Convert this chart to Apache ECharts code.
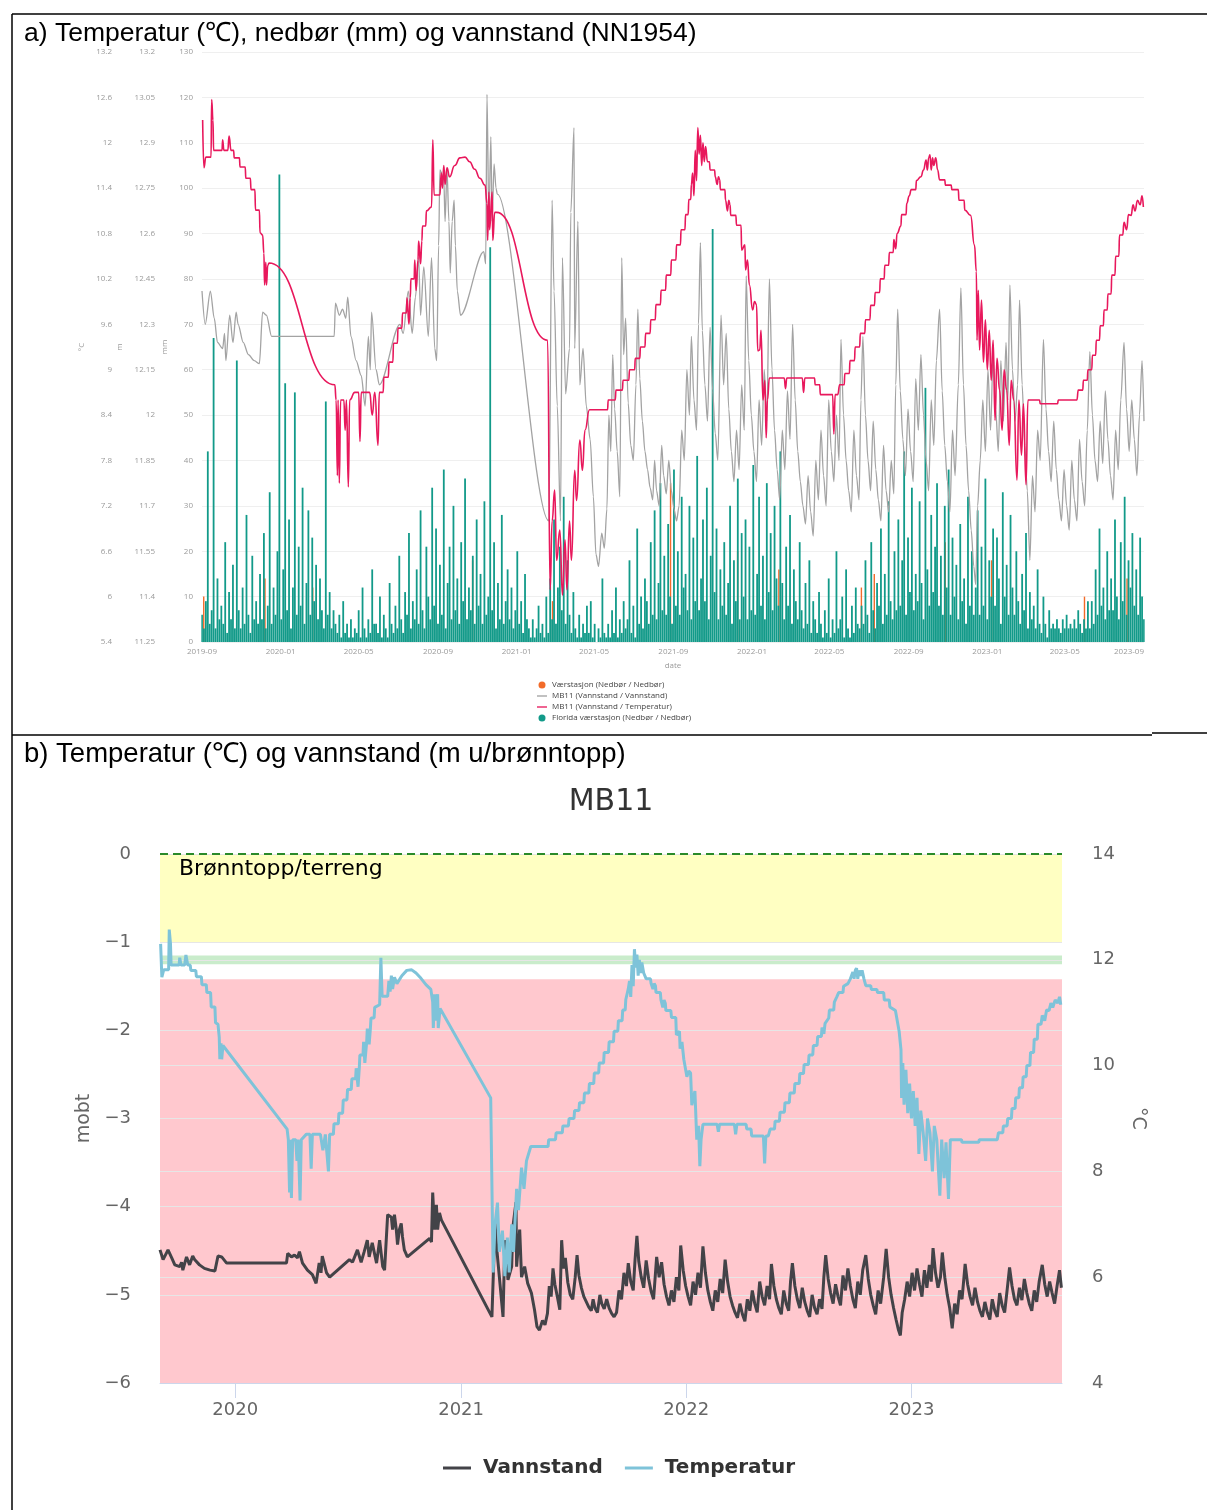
<!DOCTYPE html>
<html><head><meta charset="utf-8">
<script src="https://cdn.jsdelivr.net/npm/echarts@6/dist/echarts.min.js"></script>
<style>html,body{margin:0;padding:0;background:#fff}#c{width:1207px;height:1510px}</style>
</head><body><div id="c"></div>
<script>
// ---------------- DATA ----------------
const CAPTION_A = 'a) Temperatur (℃), nedbør (mm) og vannstand (NN1954)';
const CAPTION_B = 'b) Temperatur (℃) og vannstand (m u/brønntopp)';
const TITLE_B = 'MB11';
const X_MIN = '2019-09-01', X_MAX = '2023-09-01';
const X_TICKS_A = ['2019-09-01','2020-01-01','2020-05-01','2020-09-01','2021-01-01','2021-05-01','2021-09-01','2022-01-01','2022-05-01','2022-09-01','2023-01-01','2023-05-01','2023-09-01'];
const X_TICKS_B = ['2020-01-01','2021-01-01','2022-01-01','2023-01-01'];
const WELL_TOP = 16.9; // m NN1954, brønntopp/terreng

// Florida værstasjon, nedbør (mm), one value per 3 days from PRECIP_START
const PRECIP_START = '2019-09-01';
const PRECIP_STEP_DAYS = 3;
const FLORIDA_PRECIP = [
 6,3,9,42,4,7,67,3,14,5,
 8,4,22,2,11,5,17,3,62,7,
 3,12,4,28,6,2,19,5,9,4,
 15,5,24,3,8,33,4,12,6,20,
 103,5,16,57,7,27,3,12,55,6,
 21,8,34,4,13,29,6,23,9,17,
 5,14,7,3,53,6,11,3,7,4,
 2,6,1,9,2,4,1,5,1,3,
 2,7,1,12,3,1,5,2,16,4,
 4,2,10,1,6,3,1,13,4,2,
 8,3,19,5,2,11,6,24,3,9,
 5,16,4,29,7,3,21,10,5,34,
 8,25,4,17,6,38,3,13,21,5,
 30,7,14,4,22,9,36,5,12,7,
 19,4,27,8,15,4,31,6,10,87,
 7,22,3,13,5,28,4,9,16,5,
 12,3,7,20,4,9,2,15,5,3,
 1,5,1,3,8,2,4,1,10,2,
 14,5,27,4,12,21,7,32,4,18,
 6,2,11,3,1,6,1,4,2,8,
 2,9,1,4,0,3,1,14,2,1,
 4,1,7,2,12,1,5,2,9,3,
 5,18,2,8,1,25,4,10,3,14,
 9,4,22,6,29,5,13,35,7,19,
 6,26,10,4,38,8,20,6,32,12,
 15,7,30,5,23,9,41,7,14,27,
 9,34,5,19,91,11,25,5,16,8,
 22,6,13,30,4,18,9,36,5,24,
 10,27,5,21,7,39,6,15,32,8,
 19,5,35,11,24,7,30,14,8,42,
 13,5,21,8,28,4,16,9,5,22,
 7,3,13,4,18,2,9,5,2,11,
 4,1,7,2,14,1,5,2,20,3,
 5,10,1,16,3,1,8,2,12,4,
 3,8,4,18,6,2,22,7,3,13,
 8,25,4,15,6,31,9,5,20,7,
 27,8,18,42,6,23,11,34,7,15,
 9,31,13,5,56,16,8,28,11,21,
 35,8,19,6,30,12,38,6,23,10,
 17,5,26,9,14,4,32,8,20,6,
 12,29,6,21,8,36,5,18,10,25,
 8,23,14,4,33,10,17,6,28,12,
 6,20,9,4,15,7,24,3,11,5,
 8,3,16,4,2,10,4,1,7,3,
 4,3,5,3,2,5,3,6,3,4,
 3,5,3,7,4,2,5,3,9,3,
 9,4,16,6,25,8,12,5,20,7,
 14,7,27,10,5,22,9,32,6,18,
 12,24,8,16,6,23,10,5
];

// Værstasjon, nedbør (mm)
const STATION_PRECIP = [
 ['2019-09-04',10],['2019-12-08',14],['2020-02-20',12],['2020-10-25',18],['2021-02-26',9],
 ['2021-08-28',35],['2021-12-10',20],['2022-02-12',16],['2022-06-20',12],['2022-07-10',15],
 ['2022-10-28',22],['2023-01-08',18],['2023-06-01',10],['2023-08-06',14]
];

// MB11 temperatur (°C)
const TEMP = [
 ['2019-09-02',12.30],['2019-09-04',11.67],['2019-09-07',11.81],['2019-09-15',11.81],['2019-09-16',12.57],['2019-09-18',12.30],['2019-09-19',11.90],
 ['2019-10-02',11.90],['2019-10-03',12.04],['2019-10-05',11.90],['2019-10-11',11.90],['2019-10-13',12.09],['2019-10-16',11.90],['2019-10-20',11.90],
 ['2019-10-21',11.80],['2019-10-29',11.80],['2019-10-30',11.68],['2019-11-07',11.68],['2019-11-08',11.53],['2019-11-15',11.53],['2019-11-16',11.38],
 ['2019-11-22',11.38],['2019-11-23',11.11],['2019-11-29',11.11],['2019-11-30',10.81],['2019-12-04',10.78],['2019-12-06',10.54],['2019-12-07',10.12],
 ['2019-12-09',10.42],['2019-12-10',10.12],['2019-12-12',10.38],['2019-12-14',10.41],
 ['2020-03-25',8.80],['2020-03-27',8.60],['2020-03-29',7.60],['2020-03-30',8.60],['2020-04-01',7.50],['2020-04-03',8.60],['2020-04-08',8.60],
 ['2020-04-10',8.20],['2020-04-12',8.60],['2020-04-15',7.45],['2020-04-17',8.60],['2020-04-25',8.70],['2020-05-01',8.70],['2020-05-03',8.05],
 ['2020-05-05',8.70],['2020-05-18',8.70],['2020-05-22',8.40],['2020-05-26',8.70],['2020-05-31',8.00],['2020-06-02',8.70],['2020-06-08',8.70],
 ['2020-06-09',8.90],['2020-06-16',8.90],['2020-06-17',9.10],['2020-06-23',9.10],['2020-06-24',9.35],['2020-06-30',9.35],['2020-07-01',9.55],
 ['2020-07-07',9.55],['2020-07-08',9.75],['2020-07-14',9.75],['2020-07-15',9.95],['2020-07-18',9.60],['2020-07-20',9.95],['2020-07-21',10.20],
 ['2020-07-26',10.20],['2020-07-27',10.45],['2020-07-29',10.05],['2020-08-01',10.45],['2020-08-02',10.70],['2020-08-05',10.40],['2020-08-07',10.70],
 ['2020-08-08',10.90],['2020-08-13',10.90],['2020-08-14',11.10],['2020-08-22',11.15],['2020-08-24',12.04],['2020-08-26',11.31],['2020-09-04',11.31],
 ['2020-09-06',11.60],['2020-09-08',11.40],['2020-09-10',11.70],['2020-09-12',11.45],['2020-09-15',11.67],['2020-09-19',11.55],['2020-09-27',11.70],
 ['2020-10-05',11.80],['2020-10-13',11.81],['2020-10-20',11.75],['2020-10-28',11.65],['2020-11-05',11.53],['2020-11-13',11.44],['2020-11-16',11.20],
 ['2020-11-17',10.71],['2020-11-19',11.35],['2020-11-20',10.85],['2020-11-24',11.35],['2020-11-25',10.71],['2020-11-28',11.08],['2020-12-01',11.08],
 ['2021-02-18',9.39],['2021-02-22',6.09],['2021-02-25',7.00],['2021-03-01',7.41],['2021-03-04',6.48],['2021-03-09',6.88],['2021-03-13',6.02],
 ['2021-03-17',6.75],['2021-03-20',6.09],['2021-03-24',7.00],['2021-03-27',6.48],['2021-04-01',7.67],['2021-04-04',7.27],['2021-04-09',8.07],
 ['2021-04-13',7.67],['2021-04-17',8.20],['2021-04-24',8.47],['2021-05-22',8.47],
 ['2021-05-23',8.60],['2021-06-03',8.60],['2021-06-04',8.73],['2021-06-14',8.73],['2021-06-15',8.86],['2021-06-24',8.86],['2021-06-25',9.00],
 ['2021-07-03',9.00],['2021-07-04',9.15],['2021-07-11',9.15],['2021-07-12',9.30],['2021-07-19',9.30],['2021-07-20',9.48],['2021-07-27',9.48],
 ['2021-07-28',9.66],['2021-08-04',9.66],['2021-08-05',9.86],['2021-08-12',9.86],['2021-08-13',10.05],['2021-08-20',10.05],['2021-08-21',10.25],
 ['2021-08-28',10.25],['2021-08-29',10.45],['2021-09-05',10.45],['2021-09-06',10.65],['2021-09-12',10.65],['2021-09-13',10.85],['2021-09-19',10.85],
 ['2021-09-20',11.05],['2021-09-24',11.05],['2021-09-25',11.25],['2021-09-28',11.25],['2021-09-29',11.45],['2021-10-01',11.60],['2021-10-03',11.30],
 ['2021-10-05',11.90],['2021-10-07',11.50],['2021-10-09',12.20],['2021-10-11',11.85],['2021-10-13',12.10],['2021-10-15',11.70],['2021-10-17',12.00],
 ['2021-10-19',11.75],['2021-10-21',11.95],['2021-10-24',11.75],['2021-10-27',11.75],['2021-10-28',11.64],['2021-11-04',11.64],['2021-11-05',11.55],
 ['2021-11-08',11.45],['2021-11-10',11.55],['2021-11-12',11.51],['2021-11-13',11.38],['2021-11-20',11.38],['2021-11-21',11.24],['2021-11-24',11.10],
 ['2021-11-26',11.24],['2021-11-28',11.18],['2021-11-29',11.04],['2021-12-07',11.04],['2021-12-08',10.91],['2021-12-15',10.91],['2021-12-16',10.58],
 ['2021-12-21',10.65],['2021-12-22',10.32],['2021-12-25',10.45],['2021-12-28',10.12],['2022-01-02',9.79],['2022-01-05',9.90],['2022-01-08',9.86],
 ['2022-01-10',9.25],['2022-01-13',9.26],['2022-01-15',9.52],['2022-01-18',8.60],['2022-01-21',8.86],['2022-01-23',8.10],['2022-01-25',8.60],
 ['2022-01-28',8.89],['2022-02-20',8.89],['2022-02-22',8.75],['2022-02-24',8.89],['2022-03-20',8.89],['2022-03-22',8.70],['2022-03-24',8.89],
 ['2022-04-08',8.89],['2022-04-09',8.80],['2022-04-16',8.80],['2022-04-17',8.67],['2022-05-06',8.67],['2022-05-08',8.15],['2022-05-10',8.67],
 ['2022-05-14',8.67],['2022-05-17',8.80],['2022-05-24',8.80],['2022-05-25',8.95],['2022-06-01',8.95],['2022-06-02',9.12],['2022-06-09',9.12],
 ['2022-06-10',9.30],['2022-06-17',9.30],['2022-06-18',9.48],['2022-06-25',9.48],['2022-06-26',9.66],['2022-07-03',9.66],['2022-07-04',9.85],
 ['2022-07-10',9.85],['2022-07-11',10.02],['2022-07-18',10.02],['2022-07-19',10.20],['2022-07-25',10.20],['2022-07-26',10.38],['2022-08-01',10.38],
 ['2022-08-02',10.55],['2022-08-08',10.55],['2022-08-09',10.72],['2022-08-12',10.60],['2022-08-14',10.80],['2022-08-20',10.90],['2022-08-21',11.05],
 ['2022-08-28',11.05],['2022-08-29',11.20],['2022-09-02',11.30],['2022-09-05',11.38],['2022-09-12',11.38],['2022-09-13',11.50],['2022-09-20',11.55],
 ['2022-09-24',11.64],['2022-09-28',11.77],['2022-09-30',11.64],['2022-10-02',11.80],['2022-10-04',11.84],['2022-10-06',11.64],['2022-10-08',11.80],
 ['2022-10-10',11.70],['2022-10-13',11.80],['2022-10-16',11.64],['2022-10-19',11.51],['2022-10-27',11.51],['2022-10-28',11.44],['2022-11-06',11.44],
 ['2022-11-07',11.38],['2022-11-17',11.38],['2022-11-18',11.24],['2022-11-26',11.24],['2022-11-27',11.11],['2022-12-06',11.04],['2022-12-12',10.65],
 ['2022-12-15',10.30],['2022-12-16',9.39],['2022-12-18',10.05],['2022-12-20',9.26],['2022-12-23',9.92],['2022-12-26',9.10],['2022-12-29',9.66],
 ['2023-01-01',9.00],['2023-01-04',9.52],['2023-01-07',8.86],['2023-01-10',9.39],['2023-01-13',8.33],['2023-01-16',9.15],['2023-01-20',8.73],
 ['2023-01-24',8.20],['2023-01-27',9.00],['2023-01-31',8.73],['2023-02-04',8.00],['2023-02-07',8.86],['2023-02-11',8.60],['2023-02-16',7.54],
 ['2023-02-19',8.60],['2023-02-23',7.87],['2023-02-26',8.55],['2023-03-02',7.48],['2023-03-05',8.60],['2023-03-10',8.60],['2023-03-23',8.60],
 ['2023-03-24',8.55],['2023-04-20',8.55],['2023-04-21',8.60],['2023-05-20',8.60],['2023-05-22',8.73],['2023-05-29',8.73],['2023-05-30',8.86],
 ['2023-06-05',8.86],['2023-06-06',9.00],['2023-06-12',9.00],['2023-06-13',9.19],['2023-06-18',9.19],['2023-06-19',9.39],['2023-06-24',9.39],
 ['2023-06-25',9.58],['2023-06-30',9.58],['2023-07-01',9.79],['2023-07-06',9.79],['2023-07-07',10.00],['2023-07-12',10.00],['2023-07-13',10.25],
 ['2023-07-18',10.25],['2023-07-19',10.50],['2023-07-24',10.50],['2023-07-25',10.78],['2023-07-30',10.78],['2023-08-01',10.95],['2023-08-05',10.85],
 ['2023-08-08',11.05],['2023-08-12',11.04],['2023-08-15',11.18],['2023-08-18',11.10],['2023-08-22',11.24],['2023-08-26',11.18],['2023-08-29',11.30],
 ['2023-08-31',11.15]
];

// MB11 vannstand (m under brønntopp)
const LEVEL_MOBT = [
 ['2019-09-01',-4.49],['2019-09-06',-4.60],['2019-09-14',-4.49],['2019-09-20',-4.58],['2019-09-25',-4.66],['2019-10-03',-4.68],['2019-10-06',-4.63],
 ['2019-10-08',-4.72],['2019-10-14',-4.57],['2019-10-19',-4.66],['2019-10-24',-4.56],['2019-10-27',-4.60],['2019-11-04',-4.66],['2019-11-12',-4.70],
 ['2019-11-21',-4.72],['2019-11-29',-4.73],['2019-12-04',-4.56],['2019-12-10',-4.57],['2019-12-18',-4.64],
 ['2020-03-24',-4.64],['2020-03-26',-4.53],['2020-04-01',-4.57],['2020-04-06',-4.55],['2020-04-11',-4.58],['2020-04-14',-4.51],['2020-04-19',-4.64],
 ['2020-04-27',-4.72],['2020-05-05',-4.77],['2020-05-11',-4.87],['2020-05-16',-4.64],['2020-05-19',-4.75],['2020-05-21',-4.56],['2020-05-28',-4.75],
 ['2020-06-02',-4.80],
 ['2020-07-04',-4.60],['2020-07-09',-4.63],['2020-07-17',-4.49],['2020-07-23',-4.63],['2020-07-28',-4.51],['2020-08-02',-4.38],['2020-08-05',-4.57],
 ['2020-08-10',-4.41],['2020-08-17',-4.64],['2020-08-22',-4.38],['2020-08-27',-4.68],['2020-08-30',-4.72],['2020-09-02',-4.34],['2020-09-04',-4.09],
 ['2020-09-10',-4.12],['2020-09-12',-4.26],['2020-09-15',-4.09],['2020-09-18',-4.26],['2020-09-20',-4.43],['2020-09-23',-4.26],['2020-09-26',-4.19],
 ['2020-09-28',-4.34],['2020-10-01',-4.49],['2020-10-06',-4.57],
 ['2020-11-11',-4.36],['2020-11-14',-4.40],['2020-11-16',-3.84],['2020-11-19',-4.26],['2020-11-22',-3.98],['2020-11-24',-4.26],['2020-11-27',-4.07],
 ['2020-11-30',-4.15],['2020-12-02',-4.17],
 ['2021-02-20',-5.25],['2021-02-25',-4.19],['2021-02-28',-4.49],['2021-03-05',-4.87],['2021-03-10',-5.25],['2021-03-13',-4.38],['2021-03-18',-4.83],
 ['2021-03-24',-4.68],['2021-03-26',-4.23],['2021-03-31',-3.95],['2021-04-01',-4.68],['2021-04-06',-4.26],['2021-04-09',-4.80],['2021-04-14',-4.68],
 ['2021-04-19',-4.87],['2021-04-25',-4.98],['2021-04-30',-5.17],['2021-05-04',-5.36],
 ['2021-05-08',-5.40],['2021-05-13',-5.29],['2021-05-17',-5.34],['2021-05-21',-5.21],['2021-05-24',-4.90],['2021-05-27',-5.02],['2021-05-30',-4.70],
 ['2021-06-02',-4.88],['2021-06-06',-5.02],['2021-06-10',-5.17],['2021-06-13',-4.38],['2021-06-16',-4.70],['2021-06-19',-4.58],['2021-06-23',-4.86],
 ['2021-06-27',-5.00],['2021-07-01',-5.05],['2021-07-05',-4.80],['2021-07-08',-4.55],['2021-07-11',-4.78],['2021-07-15',-4.92],['2021-07-19',-5.02],
 ['2021-07-23',-5.08],['2021-07-27',-5.14],['2021-07-31',-5.18],['2021-08-03',-5.05],['2021-08-06',-5.15],['2021-08-10',-5.20],['2021-08-14',-5.00],
 ['2021-08-17',-5.10],['2021-08-21',-5.16],['2021-08-25',-5.05],['2021-08-29',-5.15],['2021-09-02',-5.21],['2021-09-06',-5.25],['2021-09-10',-5.20],
 ['2021-09-14',-4.95],['2021-09-18',-5.05],['2021-09-22',-4.75],['2021-09-26',-4.90],['2021-09-29',-4.64],['2021-10-03',-4.85],['2021-10-07',-4.95],
 ['2021-10-10',-4.60],['2021-10-13',-4.33],['2021-10-16',-4.62],['2021-10-20',-4.80],['2021-10-24',-4.92],['2021-10-28',-4.61],['2021-11-01',-4.82],
 ['2021-11-05',-4.96],['2021-11-09',-5.05],['2021-11-14',-4.57],['2021-11-18',-4.80],['2021-11-22',-4.63],['2021-11-26',-4.88],['2021-11-30',-5.02],
 ['2021-12-04',-5.12],['2021-12-08',-4.95],['2021-12-12',-5.08],['2021-12-16',-4.80],['2021-12-20',-4.95],['2021-12-23',-4.44],['2021-12-27',-4.72],
 ['2021-12-31',-4.90],['2022-01-04',-5.02],['2022-01-08',-5.12],['2022-01-12',-4.85],['2022-01-16',-5.00],['2022-01-20',-4.75],['2022-01-24',-4.92],
 ['2022-01-28',-4.45],['2022-02-01',-4.75],['2022-02-05',-4.95],['2022-02-09',-5.08],['2022-02-13',-5.18],['2022-02-17',-4.95],['2022-02-21',-5.08],
 ['2022-02-25',-4.82],['2022-03-01',-4.98],['2022-03-05',-4.60],['2022-03-09',-4.85],['2022-03-13',-5.02],['2022-03-17',-5.12],['2022-03-21',-5.20],
 ['2022-03-25',-5.26],['2022-03-29',-5.10],['2022-04-02',-5.22],['2022-04-06',-5.30],['2022-04-10',-5.05],['2022-04-14',-5.18],['2022-04-18',-4.95],
 ['2022-04-22',-5.10],['2022-04-26',-5.20],['2022-04-30',-4.85],['2022-05-04',-5.02],['2022-05-08',-5.12],['2022-05-12',-4.90],['2022-05-16',-5.05],
 ['2022-05-19',-4.65],['2022-05-23',-4.90],['2022-05-27',-5.05],['2022-05-31',-5.15],['2022-06-04',-5.22],['2022-06-08',-4.95],['2022-06-12',-5.10],
 ['2022-06-16',-5.18],['2022-06-19',-4.85],['2022-06-22',-4.64],['2022-06-26',-4.90],['2022-06-30',-5.05],['2022-07-04',-5.15],['2022-07-08',-4.92],
 ['2022-07-12',-5.08],['2022-07-16',-5.18],['2022-07-20',-5.25],['2022-07-24',-5.00],['2022-07-28',-5.15],['2022-08-01',-5.22],['2022-08-05',-5.05],
 ['2022-08-09',-5.16],['2022-08-12',-4.80],['2022-08-15',-4.55],['2022-08-19',-4.82],['2022-08-23',-4.98],['2022-08-27',-5.10],['2022-08-31',-4.88],
 ['2022-09-04',-5.02],['2022-09-08',-5.12],['2022-09-12',-4.78],['2022-09-16',-4.95],['2022-09-20',-4.70],['2022-09-24',-4.90],['2022-09-28',-5.05],
 ['2022-10-02',-5.15],['2022-10-06',-4.85],['2022-10-10',-5.00],['2022-10-14',-4.72],['2022-10-19',-4.55],['2022-10-23',-4.82],['2022-10-27',-5.00],
 ['2022-10-31',-5.12],['2022-11-04',-5.22],['2022-11-08',-4.95],['2022-11-12',-5.10],['2022-11-17',-4.80],['2022-11-21',-4.48],['2022-11-25',-4.80],
 ['2022-11-29',-5.00],['2022-12-03',-5.15],['2022-12-07',-5.28],['2022-12-11',-5.40],['2022-12-14',-5.46],['2022-12-17',-5.20],['2022-12-21',-5.05],
 ['2022-12-25',-4.85],['2022-12-29',-5.02],['2023-01-02',-4.75],['2023-01-06',-4.95],['2023-01-10',-4.70],['2023-01-14',-4.88],['2023-01-18',-5.02],
 ['2023-01-22',-4.72],['2023-01-26',-4.92],['2023-01-30',-4.66],['2023-02-02',-4.85],['2023-02-05',-4.47],['2023-02-09',-4.75],['2023-02-13',-4.92],
 ['2023-02-17',-4.80],['2023-02-20',-4.52],['2023-02-24',-4.80],['2023-02-28',-5.00],['2023-03-04',-5.15],['2023-03-08',-5.38],['2023-03-12',-5.10],
 ['2023-03-16',-5.22],['2023-03-20',-4.95],['2023-03-24',-5.05],['2023-03-29',-4.65],['2023-04-02',-4.88],['2023-04-06',-5.02],['2023-04-10',-5.12],
 ['2023-04-14',-4.92],['2023-04-18',-5.08],['2023-04-22',-5.18],['2023-04-26',-5.25],['2023-04-30',-5.08],['2023-05-04',-5.20],['2023-05-08',-5.28],
 ['2023-05-12',-5.05],['2023-05-16',-5.18],['2023-05-20',-5.25],['2023-05-24',-4.98],['2023-05-28',-5.12],['2023-06-01',-5.20],['2023-06-05',-4.95],
 ['2023-06-09',-4.69],['2023-06-13',-4.90],['2023-06-17',-5.05],['2023-06-21',-5.12],['2023-06-25',-4.92],['2023-06-29',-5.06],['2023-07-03',-4.82],
 ['2023-07-07',-4.98],['2023-07-11',-5.10],['2023-07-15',-5.18],['2023-07-19',-4.95],['2023-07-23',-5.08],['2023-07-27',-4.85],['2023-08-01',-4.66],
 ['2023-08-05',-4.88],['2023-08-09',-5.02],['2023-08-13',-4.85],['2023-08-17',-4.98],['2023-08-21',-5.10],['2023-08-25',-4.90],['2023-08-29',-4.72],
 ['2023-09-01',-4.92]
];

// plot bands (m under brønntopp)
const BAND_YELLOW = [0, -1];
const BAND_GREEN = [-1.15, -1.25];
const BAND_RED = [-1.42, -6];

// ---------------- BUILD ----------------
const DAY = 86400000;
const ms = s => echarts.time.parse(s).getTime();
const toMs = arr => arr.map(([d, v]) => [ms(d), v]);
const p0 = ms(PRECIP_START);
const floridaData = FLORIDA_PRECIP.map((v, i) => [p0 + i * PRECIP_STEP_DAYS * DAY, v]);
const stationData = toMs(STATION_PRECIP);
const tempData = toMs(TEMP);
const mobtData = toMs(LEVEL_MOBT);
const levelNN = LEVEL_MOBT.map(([d, v]) => [ms(d), Math.round((v + WELL_TOP) * 100) / 100]);

const fmtYM = v => { const d = new Date(v); return d.getFullYear() + '-' + String(d.getMonth() + 1).padStart(2, '0'); };
const fmtNum = v => String(Math.round(v * 100) / 100);
const fmtMinus = v => (v < 0 ? '\u2212' + Math.abs(v) : String(v));

const smallLbl = { fontSize: 8, color: '#9a9a9a', fontFamily: 'Open Sans' };
const bigLbl = { fontSize: 18, color: '#666', fontFamily: 'DejaVu Sans' };
const LINE_ICON = 'path://M0,0H12V1.6H0Z';

const chart = echarts.init(document.getElementById('c'), null, { renderer: 'canvas' });
chart.setOption({
  animation: false,
  backgroundColor: '#fff',
  title: [
    { text: CAPTION_A, left: 24, top: 20, padding: 0, textStyle: { fontFamily: 'Liberation Sans', fontSize: 26.5, fontWeight: 'normal', color: '#000' } },
    { text: CAPTION_B, left: 24, top: 740, padding: 0, textStyle: { fontFamily: 'Liberation Sans', fontSize: 27.5, fontWeight: 'normal', color: '#000' } },
    { text: TITLE_B, left: 611, top: 787, textAlign: 'center', padding: 0, textStyle: { fontFamily: 'DejaVu Sans', fontSize: 30, fontWeight: 'normal', color: '#333' } }
  ],
  graphic: [
    { type: 'line', shape: { x1: 12, y1: 14, x2: 1207, y2: 14 }, style: { stroke: '#000', lineWidth: 1.5 } },
    { type: 'line', shape: { x1: 12, y1: 14, x2: 12, y2: 1510 }, style: { stroke: '#000', lineWidth: 1.5 } },
    { type: 'line', shape: { x1: 12, y1: 735, x2: 1152, y2: 735 }, style: { stroke: '#000', lineWidth: 1.5 } },
    { type: 'line', shape: { x1: 1152, y1: 733, x2: 1207, y2: 733 }, style: { stroke: '#000', lineWidth: 1.5 } }
  ],
  legend: [
    {
      orient: 'vertical', left: 537, top: 681, padding: 0, itemWidth: 10, itemHeight: 7, itemGap: 3,
      textStyle: { fontSize: 8, color: '#444', fontFamily: 'Open Sans' },
      data: [
        { name: 'Værstasjon (Nedbør / Nedbør)', icon: 'circle' },
        { name: 'MB11 (Vannstand / Vannstand)', icon: LINE_ICON },
        { name: 'MB11 (Vannstand / Temperatur)', icon: LINE_ICON },
        { name: 'Florida værstasjon (Nedbør / Nedbør)', icon: 'circle' }
      ]
    },
    {
      left: 443, top: 1458, padding: 0, itemWidth: 28, itemHeight: 3, itemGap: 22, icon: 'rect',
      textStyle: { fontSize: 20, fontWeight: 'bold', color: '#333', fontFamily: 'DejaVu Sans', padding: [0, 0, 0, 7] },
      data: ['Vannstand', 'Temperatur']
    }
  ],
  grid: [
    { left: 202, top: 52, width: 942, height: 590 },
    { left: 160, top: 854, width: 902, height: 529 }
  ],
  xAxis: [
    {
      type: 'value', gridIndex: 0, min: ms(X_MIN), max: ms(X_MAX),
      axisLine: { show: false, onZero: false }, axisTick: { show: false }, splitLine: { show: false },
      axisLabel: Object.assign({ customValues: X_TICKS_A.map(ms), formatter: fmtYM, margin: 6, alignMaxLabel: 'right', showMinLabel: true, showMaxLabel: true }, smallLbl),
      name: 'date', nameLocation: 'middle', nameGap: 20, nameTextStyle: smallLbl
    },
    {
      type: 'value', gridIndex: 1, min: ms(X_MIN), max: ms('2023-09-02'),
      axisLine: { show: true, onZero: false, lineStyle: { color: '#ccd6eb' } },
      axisTick: { show: true, customValues: X_TICKS_B.map(ms), length: 15, lineStyle: { color: '#ccd6eb' } },
      splitLine: { show: false },
      axisLabel: Object.assign({ customValues: X_TICKS_B.map(ms), formatter: v => String(new Date(v).getFullYear()), margin: 18 }, bigLbl)
    }
  ],
  yAxis: [
    {
      type: 'value', gridIndex: 0, min: 0, max: 130, interval: 10, position: 'left', offset: 0,
      axisLine: { show: false }, axisTick: { show: false },
      splitLine: { show: true, lineStyle: { color: '#efefef' } },
      axisLabel: Object.assign({ margin: 9, formatter: fmtNum }, smallLbl),
      name: 'mm', nameLocation: 'middle', nameGap: 26, nameTextStyle: smallLbl
    },
    {
      type: 'value', gridIndex: 0, min: 11.25, max: 13.2, interval: 0.15, position: 'left', offset: 38,
      axisLine: { show: false }, axisTick: { show: false }, splitLine: { show: false },
      axisLabel: Object.assign({ margin: 9, formatter: fmtNum }, smallLbl),
      name: 'm', nameLocation: 'middle', nameGap: 32, nameTextStyle: smallLbl
    },
    {
      type: 'value', gridIndex: 0, min: 5.4, max: 13.2, interval: 0.6, position: 'left', offset: 81,
      axisLine: { show: false }, axisTick: { show: false }, splitLine: { show: false },
      axisLabel: Object.assign({ margin: 9, formatter: fmtNum }, smallLbl),
      name: '°C', nameLocation: 'middle', nameGap: 31, nameTextStyle: smallLbl
    },
    {
      type: 'value', gridIndex: 1, min: -6, max: 0, interval: 1, position: 'left',
      axisLine: { show: false }, axisTick: { show: false },
      splitLine: { show: true, lineStyle: { color: '#e6e6e6' } },
      axisLabel: Object.assign({ margin: 29, formatter: fmtMinus }, bigLbl),
      name: 'mobt', nameLocation: 'middle', nameGap: 62, nameTextStyle: { fontSize: 19, color: '#666', fontFamily: 'DejaVu Sans' }
    },
    {
      type: 'value', gridIndex: 1, min: 4, max: 14, interval: 2, position: 'right',
      axisLine: { show: false }, axisTick: { show: false },
      splitLine: { show: true, lineStyle: { color: '#e6e6e6' } },
      axisLabel: Object.assign({ margin: 30 }, bigLbl),
      name: '°C', nameLocation: 'middle', nameGap: 66, nameRotate: -90, nameTextStyle: { fontSize: 19, color: '#666', fontFamily: 'DejaVu Sans' }
    }
  ],
  series: [
    {
      name: 'Værstasjon (Nedbør / Nedbør)', type: 'bar', xAxisIndex: 0, yAxisIndex: 0,
      data: stationData, barWidth: 1.4, barGap: '-100%', itemStyle: { color: '#f26b2a' }, z: 1
    },
    {
      name: 'Florida værstasjon (Nedbør / Nedbør)', type: 'bar', xAxisIndex: 0, yAxisIndex: 0,
      data: floridaData, barWidth: 1.8, barGap: '-100%', itemStyle: { color: '#129a89' }, z: 1
    },
    {
      name: 'MB11 (Vannstand / Vannstand)', type: 'line', xAxisIndex: 0, yAxisIndex: 1,
      data: levelNN, symbol: 'none', smooth: 0.3, smoothMonotone: 'x',
      lineStyle: { color: '#a3a3a3', width: 1.3 }, itemStyle: { color: '#a3a3a3' }, z: 3
    },
    {
      name: 'MB11 (Vannstand / Temperatur)', type: 'line', xAxisIndex: 0, yAxisIndex: 2,
      data: tempData, symbol: 'none', smooth: 0.5, smoothMonotone: 'x',
      lineStyle: { color: '#e8185c', width: 1.6 }, itemStyle: { color: '#e8185c' }, z: 4
    },
    {
      name: 'Vannstand', type: 'line', xAxisIndex: 1, yAxisIndex: 3,
      data: mobtData, symbol: 'none',
      lineStyle: { color: '#434348', width: 3 }, itemStyle: { color: '#434348' }, z: 3,
      markArea: {
        silent: true, z: -1,
        data: [
          [{ yAxis: BAND_YELLOW[0], itemStyle: { color: '#ffffc2' } }, { yAxis: BAND_YELLOW[1] }],
          [{ yAxis: BAND_GREEN[0], itemStyle: { color: '#c9eccb' } }, { yAxis: BAND_GREEN[1] }],
          [{ yAxis: BAND_RED[0], itemStyle: { color: '#ffc8ce' } }, { yAxis: BAND_RED[1] }]
        ]
      },
      markLine: {
        silent: true, symbol: ['none', 'none'],
        lineStyle: { color: '#2a8a2a', type: [8, 5], width: 2 },
        label: { show: true, position: 'insideStartBottom', formatter: 'Brønntopp/terreng', color: '#000', fontSize: 22, fontFamily: 'DejaVu Sans', distance: [19, 4] },
        data: [{ yAxis: 0 }]
      }
    },
    {
      name: 'Temperatur', type: 'line', xAxisIndex: 1, yAxisIndex: 4,
      data: tempData, symbol: 'none',
      lineStyle: { color: '#7ec3d9', width: 3 }, itemStyle: { color: '#7ec3d9' }, z: 4
    }
  ]
});
</script></body></html>
